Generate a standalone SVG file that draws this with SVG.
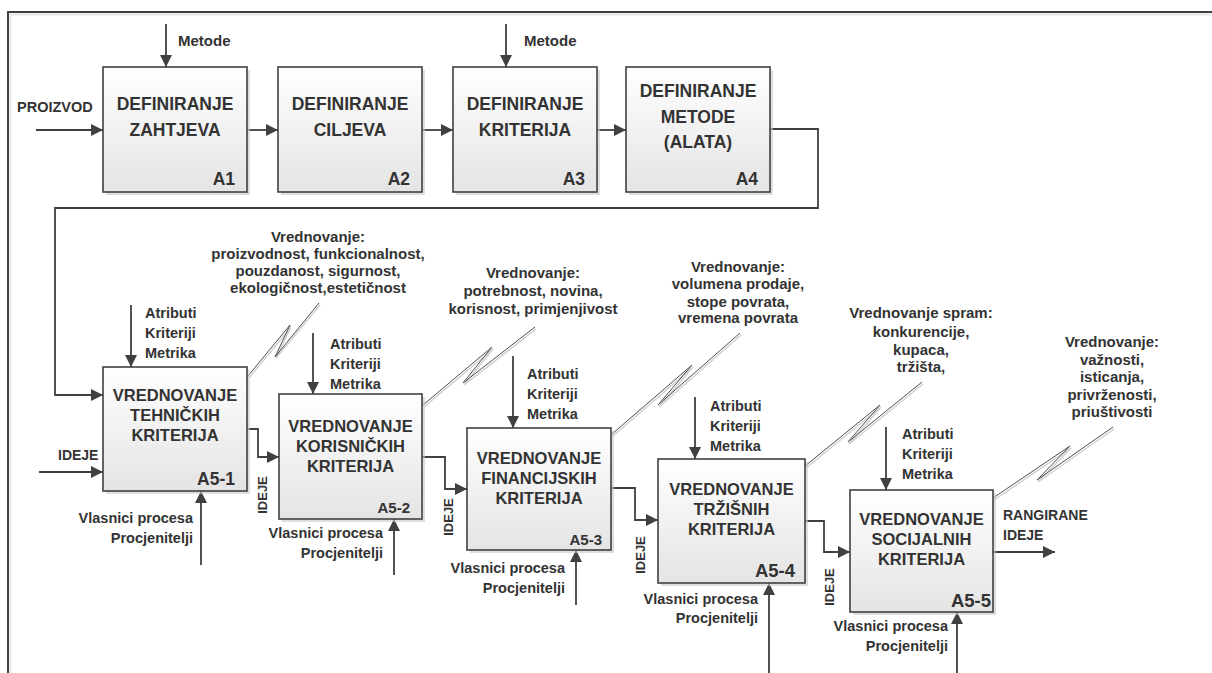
<svg xmlns="http://www.w3.org/2000/svg" width="1212" height="673" viewBox="0 0 1212 673">
<defs>
<linearGradient id="bg" x1="0" y1="0" x2="0" y2="1">
<stop offset="0" stop-color="#ffffff"/>
<stop offset="1" stop-color="#e4e4e4"/>
</linearGradient>
<marker id="ah" markerUnits="userSpaceOnUse" markerWidth="14" markerHeight="12" refX="12" refY="6" orient="auto">
<path d="M0,0 L12,6 L0,12 Z" fill="#404040"/>
</marker>
</defs>
<style>
.box{fill:url(#bg);stroke:#404040;stroke-width:1.6}
.sh{fill:#c8c8c8;opacity:0.6}
.c{fill:none;stroke:#404040;stroke-width:1.8}
.sq{fill:none;stroke:#505050;stroke-width:1}
.sqs{fill:none;stroke:#d0d0d0;stroke-width:1.5}
text{font-family:"Liberation Sans",Arial,sans-serif;font-weight:bold;fill:#333}
.t1{font-size:17.5px;text-anchor:middle}
.t2{font-size:16.5px;text-anchor:middle}
.lab{font-size:17.5px;text-anchor:end}
.s{font-size:14.5px}
.e{font-size:14.5px;text-anchor:end}
.cl{font-size:15px;text-anchor:middle}
.m{font-size:15px}
.v{font-size:13px;text-anchor:middle}
</style>
<rect width="1212" height="673" fill="#ffffff"/>
<g id="frame">
<path d="M10.5,673 V14.5 H1212" fill="none" stroke="#e6e6e6" stroke-width="2"/>
<path d="M8,673 V12 H1212" fill="none" stroke="#404040" stroke-width="2"/>
</g>
<g id="connectors">
<line class="c" x1="166" y1="24" x2="166" y2="67" marker-end="url(#ah)"/>
<line class="c" x1="506" y1="24" x2="506" y2="67" marker-end="url(#ah)"/>
<line class="c" x1="36" y1="130" x2="103" y2="130" marker-end="url(#ah)"/>
<line class="c" x1="247" y1="130" x2="278" y2="130" marker-end="url(#ah)"/>
<line class="c" x1="422" y1="130" x2="453" y2="130" marker-end="url(#ah)"/>
<line class="c" x1="597" y1="130" x2="626" y2="130" marker-end="url(#ah)"/>
<polyline class="c" points="770,129 818,129 818,208 55,208 55,395 103,395" marker-end="url(#ah)"/>
<line class="c" x1="39" y1="472" x2="103" y2="472" marker-end="url(#ah)"/>
<polyline class="c" points="247,429 258,429 258,457 279,457" marker-end="url(#ah)"/>
<polyline class="c" points="422,457 445,457 445,489 467,489" marker-end="url(#ah)"/>
<polyline class="c" points="611,488 635,488 635,520 658,520" marker-end="url(#ah)"/>
<polyline class="c" points="805,521 824,521 824,552 850,552" marker-end="url(#ah)"/>
<line class="c" x1="993" y1="552" x2="1055" y2="552" marker-end="url(#ah)"/>
<line class="c" x1="131" y1="305" x2="131" y2="367" marker-end="url(#ah)"/>
<line class="c" x1="313" y1="333" x2="313" y2="394" marker-end="url(#ah)"/>
<line class="c" x1="513" y1="356" x2="513" y2="428" marker-end="url(#ah)"/>
<line class="c" x1="695" y1="397" x2="695" y2="459" marker-end="url(#ah)"/>
<line class="c" x1="886" y1="427" x2="886" y2="490" marker-end="url(#ah)"/>
<line class="c" x1="201" y1="565" x2="201" y2="491" marker-end="url(#ah)"/>
<line class="c" x1="394" y1="575" x2="394" y2="519" marker-end="url(#ah)"/>
<line class="c" x1="576" y1="605" x2="576" y2="550" marker-end="url(#ah)"/>
<line class="c" x1="769" y1="673" x2="769" y2="583" marker-end="url(#ah)"/>
<line class="c" x1="957" y1="673" x2="957" y2="612" marker-end="url(#ah)"/>
<polyline class="sqs" points="249,378 291,327 276,358 320,305"/>
<polyline class="sq" points="248,376 290,325 275,357 319,303"/>
<polyline class="sqs" points="424,407 493,349 464,385 536,329"/>
<polyline class="sq" points="423,405 492,347 463,383 535,327"/>
<polyline class="sqs" points="613,436 693,367 659,407 741,335"/>
<polyline class="sq" points="612,434 692,365 658,405 740,333"/>
<polyline class="sqs" points="806,468 881,407 849,444 923,384"/>
<polyline class="sq" points="805,466 880,405 848,442 922,382"/>
<polyline class="sqs" points="994,500 1071,448 1038,482 1114,429"/>
<polyline class="sq" points="993,498 1070,446 1037,480 1113,427"/>
</g>
<g id="A1">
<rect class="sh" x="106" y="70" width="144" height="125"/>
<rect class="box" x="103" y="67" width="144" height="125"/>
<text class="t1" x="175" y="110">DEFINIRANJE</text>
<text class="t1" x="175" y="136">ZAHTJEVA</text>
<text class="lab" x="235" y="185">A1</text>
</g>
<g id="A2">
<rect class="sh" x="281" y="70" width="144" height="125"/>
<rect class="box" x="278" y="67" width="144" height="125"/>
<text class="t1" x="350" y="110">DEFINIRANJE</text>
<text class="t1" x="350" y="136">CILJEVA</text>
<text class="lab" x="410" y="185">A2</text>
</g>
<g id="A3">
<rect class="sh" x="456" y="70" width="144" height="125"/>
<rect class="box" x="453" y="67" width="144" height="125"/>
<text class="t1" x="525" y="110">DEFINIRANJE</text>
<text class="t1" x="525" y="136">KRITERIJA</text>
<text class="lab" x="585" y="185">A3</text>
</g>
<g id="A4">
<rect class="sh" x="629" y="70" width="144" height="125"/>
<rect class="box" x="626" y="67" width="144" height="125"/>
<text class="t1" x="698" y="97">DEFINIRANJE</text>
<text class="t1" x="698" y="123">METODE</text>
<text class="t1" x="698" y="148">(ALATA)</text>
<text class="lab" x="758" y="185">A4</text>
</g>
<g id="A5-1">
<rect class="sh" x="106" y="370" width="144" height="124"/>
<rect class="box" x="103" y="367" width="144" height="124"/>
<text class="t2" x="175" y="401">VREDNOVANJE</text>
<text class="t2" x="175" y="421">TEHNIČKIH</text>
<text class="t2" x="175" y="441">KRITERIJA</text>
<text class="lab" x="235" y="485">A5-1</text>
</g>
<g id="A5-2">
<rect class="sh" x="282" y="397" width="143" height="125"/>
<rect class="box" x="279" y="394" width="143" height="125"/>
<text class="t2" x="350.5" y="432">VREDNOVANJE</text>
<text class="t2" x="350.5" y="452">KORISNIČKIH</text>
<text class="t2" x="350.5" y="472">KRITERIJA</text>
<text class="lab" x="410" y="513" style="font-size:15px">A5-2</text>
</g>
<g id="A5-3">
<rect class="sh" x="470" y="431" width="144" height="122"/>
<rect class="box" x="467" y="428" width="144" height="122"/>
<text class="t2" x="539" y="464">VREDNOVANJE</text>
<text class="t2" x="539" y="484">FINANCIJSKIH</text>
<text class="t2" x="539" y="504">KRITERIJA</text>
<text class="lab" x="602" y="545" style="font-size:15px">A5-3</text>
</g>
<g id="A5-4">
<rect class="sh" x="661" y="462" width="147" height="124"/>
<rect class="box" x="658" y="459" width="147" height="124"/>
<text class="t2" x="731.5" y="495">VREDNOVANJE</text>
<text class="t2" x="731.5" y="515">TRŽIŠNIH</text>
<text class="t2" x="731.5" y="535">KRITERIJA</text>
<text class="lab" x="795" y="577" style="font-size:18.5px">A5-4</text>
</g>
<g id="A5-5">
<rect class="sh" x="853" y="493" width="143" height="122"/>
<rect class="box" x="850" y="490" width="143" height="122"/>
<text class="t2" x="921.5" y="525">VREDNOVANJE</text>
<text class="t2" x="921.5" y="545">SOCIJALNIH</text>
<text class="t2" x="921.5" y="565">KRITERIJA</text>
<text class="lab" x="991" y="607" style="font-size:18.5px">A5-5</text>
</g>
<g id="labels">
<text class="m" x="178" y="46">Metode</text>
<text class="m" x="524" y="46">Metode</text>
<text style="font-size:14.5px" x="17" y="112">PROIZVOD</text>
<text style="font-size:14px" x="58" y="460">IDEJE</text>
<text style="font-size:14px" x="1003" y="520">RANGIRANE</text>
<text style="font-size:14px" x="1003" y="540">IDEJE</text>
<text class="v" transform="translate(267,495) rotate(-90)">IDEJE</text>
<text class="v" transform="translate(453,517) rotate(-90)">IDEJE</text>
<text class="v" transform="translate(645,555) rotate(-90)">IDEJE</text>
<text class="v" transform="translate(834,587) rotate(-90)">IDEJE</text>
<text class="s" x="145" y="318">Atributi</text>
<text class="s" x="145" y="338">Kriteriji</text>
<text class="s" x="145" y="358">Metrika</text>
<text class="s" x="330" y="349">Atributi</text>
<text class="s" x="330" y="369">Kriteriji</text>
<text class="s" x="330" y="389">Metrika</text>
<text class="s" x="527" y="379">Atributi</text>
<text class="s" x="527" y="399">Kriteriji</text>
<text class="s" x="527" y="419">Metrika</text>
<text class="s" x="710" y="411">Atributi</text>
<text class="s" x="710" y="431">Kriteriji</text>
<text class="s" x="710" y="451">Metrika</text>
<text class="s" x="902" y="439">Atributi</text>
<text class="s" x="902" y="459">Kriteriji</text>
<text class="s" x="902" y="479">Metrika</text>
<text class="e" x="193" y="523">Vlasnici procesa</text>
<text class="e" x="193" y="543">Procjenitelji</text>
<text class="e" x="383" y="538">Vlasnici procesa</text>
<text class="e" x="383" y="558">Procjenitelji</text>
<text class="e" x="565" y="573">Vlasnici procesa</text>
<text class="e" x="565" y="593">Procjenitelji</text>
<text class="e" x="758" y="604">Vlasnici procesa</text>
<text class="e" x="758" y="623">Procjenitelji</text>
<text class="e" x="948" y="631">Vlasnici procesa</text>
<text class="e" x="948" y="651">Procjenitelji</text>
<text class="cl" x="318" y="242">Vrednovanje:</text>
<text class="cl" x="318" y="259">proizvodnost, funkcionalnost,</text>
<text class="cl" x="318" y="276">pouzdanost, sigurnost,</text>
<text class="cl" x="318" y="293">ekologičnost,estetičnost</text>
<text class="cl" x="533" y="278">Vrednovanje:</text>
<text class="cl" x="533" y="296">potrebnost, novina,</text>
<text class="cl" x="533" y="314">korisnost, primjenjivost</text>
<text class="cl" x="738" y="272">Vrednovanje:</text>
<text class="cl" x="738" y="289">volumena prodaje,</text>
<text class="cl" x="738" y="307">stope povrata,</text>
<text class="cl" x="738" y="323">vremena povrata</text>
<text class="cl" x="921" y="318">Vrednovanje spram:</text>
<text class="cl" x="921" y="337">konkurencije,</text>
<text class="cl" x="921" y="355">kupaca,</text>
<text class="cl" x="921" y="372">tržišta,</text>
<text class="cl" x="1112" y="347">Vrednovanje:</text>
<text class="cl" x="1112" y="365">važnosti,</text>
<text class="cl" x="1112" y="382">isticanja,</text>
<text class="cl" x="1112" y="400">privrženosti,</text>
<text class="cl" x="1112" y="417">priuštivosti</text>
</g>
</svg>
